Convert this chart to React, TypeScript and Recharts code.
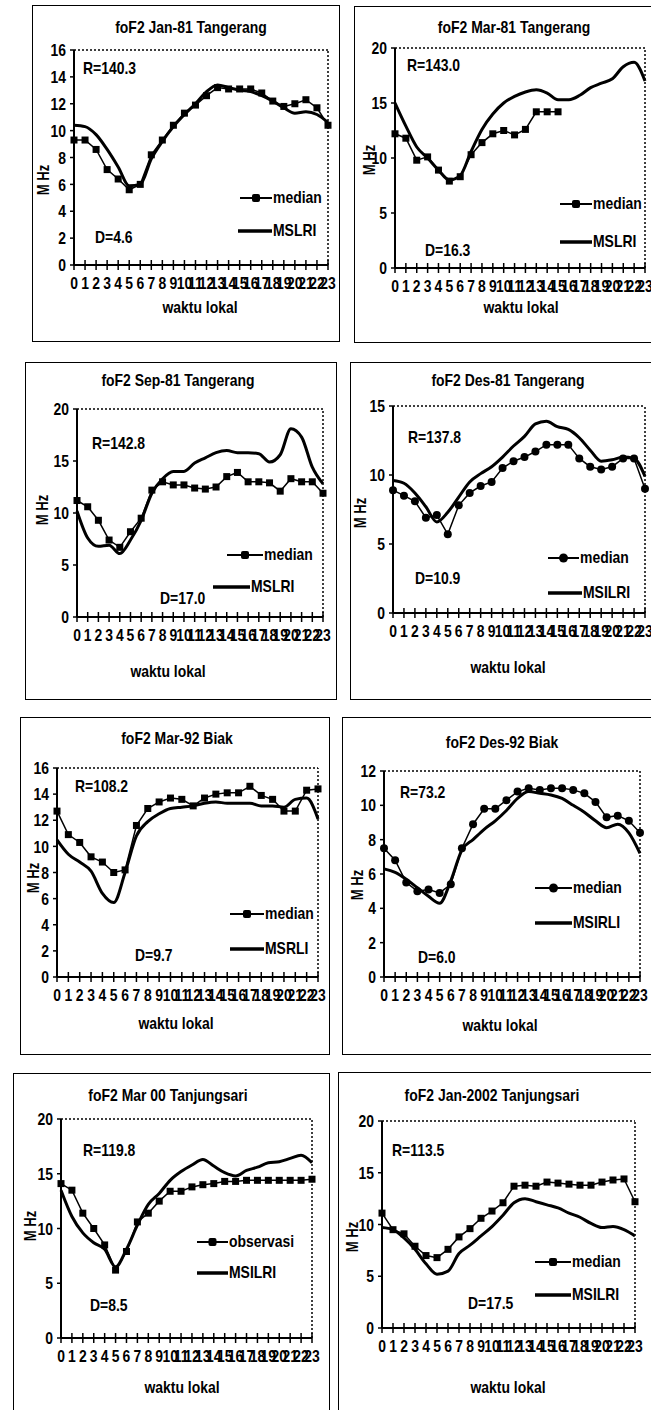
import React from 'react';
import { LineChart, Line, XAxis, YAxis, ReferenceLine, Legend } from 'recharts';

const FONT = "'Liberation Sans', Arial, sans-serif";
const SQ = 0.82; // horizontal squeeze to mimic a narrow bold face
const FS = 17;

// local time, hours
const hours = [0, 1, 2, 3, 4, 5, 6, 7, 8, 9, 10, 11, 12, 13, 14, 15, 16, 17, 18, 19, 20, 21, 22, 23];

const jan81Median = [9.3, 9.3, 8.6, 7.1, 6.4, 5.6, 6.0, 8.2, 9.3, 10.4, 11.3, 11.9, 12.6, 13.2, 13.1, 13.1, 13.1, 12.8, 12.2, 11.8, 12.0, 12.3, 11.7, 10.4];
const jan81Model = [10.4, 10.3, 9.7, 8.6, 7.3, 5.9, 6.0, 7.9, 9.2, 10.3, 11.2, 12.0, 12.9, 13.4, 13.2, 13.0, 12.9, 12.6, 12.2, 11.7, 11.3, 11.4, 11.2, 10.6];

const mar81Median = [12.2, 11.8, 9.8, 10.1, 8.9, 7.9, 8.3, 10.3, 11.4, 12.2, 12.5, 12.1, 12.6, 14.2, 14.2, 14.2, null, null, null, null, null, null, null, null];
const mar81Model = [15.0, 12.9, 11.0, 10.0, 8.9, 8.0, 8.4, 10.6, 12.6, 14.0, 15.0, 15.6, 16.0, 16.2, 15.9, 15.3, 15.3, 15.7, 16.4, 16.8, 17.2, 18.3, 18.7, 17.0];

const sep81Median = [11.2, 10.6, 9.3, 7.4, 6.7, 8.2, 9.5, 12.2, 13.0, 12.7, 12.7, 12.4, 12.3, 12.5, 13.5, 13.9, 13.0, 13.0, 12.9, 12.1, 13.3, 13.0, 13.0, 11.9];
const sep81Model = [10.2, 7.6, 6.8, 6.9, 6.1, 7.4, 9.3, 11.9, 13.3, 14.0, 14.0, 14.8, 15.3, 15.8, 16.0, 15.8, 15.8, 15.7, 14.9, 15.6, 18.1, 17.3, 14.4, 12.8];

const des81Median = [8.9, 8.5, 8.1, 6.9, 7.1, 5.7, 7.8, 8.7, 9.2, 9.5, 10.5, 11.0, 11.3, 11.7, 12.2, 12.2, 12.2, 11.2, 10.6, 10.4, 10.6, 11.2, 11.2, 9.0];
const des81Model = [9.6, 9.4, 8.7, 7.7, 6.6, 7.3, 8.4, 9.5, 10.1, 10.6, 11.3, 12.1, 12.8, 13.7, 13.9, 13.5, 13.3, 12.7, 11.8, 11.0, 11.1, 11.3, 11.2, 9.9];

const mar92Median = [12.7, 10.9, 10.3, 9.2, 8.8, 8.0, 8.2, 11.6, 12.9, 13.4, 13.7, 13.6, 13.1, 13.7, 14.0, 14.1, 14.1, 14.6, 13.9, 13.6, 12.7, 12.7, 14.3, 14.4];
const mar92Model = [10.5, 9.4, 8.8, 8.1, 6.4, 5.7, 8.0, 10.8, 11.9, 12.5, 12.9, 13.0, 13.1, 13.3, 13.4, 13.3, 13.3, 13.3, 13.1, 13.1, 13.0, 13.6, 13.7, 12.1];

const des92Median = [7.5, 6.8, 5.5, 5.0, 5.1, 4.9, 5.4, 7.5, 8.9, 9.8, 9.8, 10.3, 10.8, 11.0, 10.9, 11.0, 11.0, 10.9, 10.7, 10.2, 9.3, 9.4, 9.1, 8.4];
const des92Model = [6.3, 6.1, 5.7, 5.2, 4.7, 4.3, 5.6, 7.4, 8.0, 8.6, 9.1, 9.7, 10.4, 10.8, 10.7, 10.6, 10.4, 10.0, 9.6, 9.1, 8.7, 8.9, 8.4, 7.2];

const mar00Obs = [14.1, 13.5, 11.4, 10.0, 8.5, 6.2, 7.9, 10.6, 11.4, 12.5, 13.4, 13.4, 13.8, 14.0, 14.1, 14.3, 14.3, 14.4, 14.4, 14.4, 14.4, 14.4, 14.4, 14.5];
const mar00Model = [13.5, 11.1, 9.6, 8.7, 8.1, 6.5, 8.1, 10.3, 12.2, 13.2, 14.4, 15.2, 15.8, 16.3, 15.7, 15.1, 14.8, 15.3, 15.6, 16.0, 16.1, 16.4, 16.7, 16.0];

const jan02Median = [11.1, 9.5, 9.1, 7.9, 7.0, 6.8, 7.6, 8.8, 9.6, 10.6, 11.3, 12.1, 13.7, 13.8, 13.7, 14.1, 14.0, 13.9, 13.8, 13.8, 14.1, 14.3, 14.4, 12.2];
const jan02Model = [9.7, 9.5, 8.7, 7.6, 6.2, 5.2, 5.5, 7.2, 8.0, 8.9, 9.8, 10.9, 12.1, 12.5, 12.2, 11.9, 11.6, 11.1, 10.7, 10.1, 9.7, 9.8, 9.5, 8.9];

const ticks16 = [0, 2, 4, 6, 8, 10, 12, 14, 16];
const ticks20 = [0, 5, 10, 15, 20];
const ticks15 = [0, 5, 10, 15];
const ticks12 = [0, 2, 4, 6, 8, 10, 12];

const YW = 32;
const MT = 10;
const MR = 14;
const XH = 30;

type Panel = {
  title: string;
  box: [number, number, number, number];
  plot: [number, number, number, number];
  yMax: number;
  yTicks: number[];
  titleAt: [number, number];
  rText: string;
  rAt: [number, number];
  dText: string;
  dAt: [number, number];
  yLabAt: [number, number];
  xLabAt: [number, number];
  legend: { x1: number; w1: number; x2: number; w2: number; y1: number; y2: number };
  names: [string, string];
  marker: 'square' | 'circle';
  median: (number | null)[];
  model: number[];
};

const panels: Panel[] = [
  {
    title: 'foF2 Jan-81 Tangerang', box: [32, 5, 340, 342], plot: [74, 328, 50, 265], yMax: 16, yTicks: ticks16,
    titleAt: [191, 27], rText: 'R=140.3', rAt: [83, 68], dText: 'D=4.6', dAt: [95, 237],
    yLabAt: [44, 180], xLabAt: [200, 307],
    legend: { x1: 240, w1: 32, x2: 238, w2: 34, y1: 198, y2: 231 }, names: ['median', 'MSLRI'], marker: 'square',
    median: jan81Median, model: jan81Model,
  },
  {
    title: 'foF2 Mar-81 Tangerang', box: [354, 6, 670, 343], plot: [395, 645, 48, 268], yMax: 20, yTicks: ticks20,
    titleAt: [514, 27], rText: 'R=143.0', rAt: [407, 65], dText: 'D=16.3', dAt: [425, 250],
    yLabAt: [370, 160], xLabAt: [521, 307],
    legend: { x1: 560, w1: 32, x2: 560, w2: 32, y1: 204, y2: 242 }, names: ['median', 'MSLRI'], marker: 'square',
    median: mar81Median, model: mar81Model,
  },
  {
    title: 'foF2 Sep-81 Tangerang', box: [25, 362, 337, 700], plot: [77, 323, 409, 617], yMax: 20, yTicks: ticks20,
    titleAt: [178, 380], rText: 'R=142.8', rAt: [92, 443], dText: 'D=17.0', dAt: [160, 598],
    yLabAt: [43, 510], xLabAt: [168, 671],
    legend: { x1: 227, w1: 36, x2: 213, w2: 37, y1: 555, y2: 587 }, names: ['median', 'MSLRI'], marker: 'square',
    median: sep81Median, model: sep81Model,
  },
  {
    title: 'foF2 Des-81 Tangerang', box: [350, 362, 670, 700], plot: [393, 645, 406, 613], yMax: 15, yTicks: ticks15,
    titleAt: [508, 380], rText: 'R=137.8', rAt: [408, 437], dText: 'D=10.9', dAt: [415, 578],
    yLabAt: [361, 513], xLabAt: [508, 667],
    legend: { x1: 548, w1: 31, x2: 548, w2: 34, y1: 558, y2: 593 }, names: ['median', 'MSILRI'], marker: 'circle',
    median: des81Median, model: des81Model,
  },
  {
    title: 'foF2 Mar-92 Biak', box: [20, 717, 330, 1055], plot: [57, 318, 768, 977], yMax: 16, yTicks: ticks16,
    titleAt: [177, 738], rText: 'R=108.2', rAt: [75, 786], dText: 'D=9.7', dAt: [135, 955],
    yLabAt: [34, 878], xLabAt: [176, 1023],
    legend: { x1: 230, w1: 34, x2: 230, w2: 34, y1: 914, y2: 949 }, names: ['median', 'MSRLI'], marker: 'square',
    median: mar92Median, model: mar92Model,
  },
  {
    title: 'foF2 Des-92 Biak', box: [342, 717, 670, 1055], plot: [384, 640, 771, 977], yMax: 12, yTicks: ticks12,
    titleAt: [502, 742], rText: 'R=73.2', rAt: [400, 792], dText: 'D=6.0', dAt: [418, 957],
    yLabAt: [358, 885], xLabAt: [500, 1025],
    legend: { x1: 535, w1: 37, x2: 535, w2: 37, y1: 888, y2: 923 }, names: ['median', 'MSIRLI'], marker: 'circle',
    median: des92Median, model: des92Model,
  },
  {
    title: 'foF2 Mar 00 Tanjungsari', box: [13, 1073, 330, 1430], plot: [61, 312, 1119, 1338], yMax: 20, yTicks: ticks20,
    titleAt: [168, 1095], rText: 'R=119.8', rAt: [83, 1150], dText: 'D=8.5', dAt: [90, 1305],
    yLabAt: [31, 1226], xLabAt: [182, 1387],
    legend: { x1: 197, w1: 31, x2: 197, w2: 31, y1: 1242, y2: 1273 }, names: ['observasi', 'MSILRI'], marker: 'square',
    median: mar00Obs, model: mar00Model,
  },
  {
    title: 'foF2 Jan-2002 Tanjungsari', box: [338, 1072, 670, 1430], plot: [382, 635, 1121, 1328], yMax: 20, yTicks: ticks20,
    titleAt: [492, 1095], rText: 'R=113.5', rAt: [392, 1150], dText: 'D=17.5', dAt: [468, 1303],
    yLabAt: [353, 1237], xLabAt: [508, 1387],
    legend: { x1: 535, w1: 36, x2: 535, w2: 36, y1: 1262, y2: 1295 }, names: ['median', 'MSILRI'], marker: 'square',
    median: jan02Median, model: jan02Model,
  },
];

const txt: React.CSSProperties = {
  position: 'absolute',
  fontFamily: FONT,
  fontWeight: 'bold',
  fontSize: FS,
  color: '#000',
  whiteSpace: 'nowrap',
  lineHeight: 1,
};

const renderXTick = (props: any) => {
  const { x, y, payload } = props;
  return (
    <g>
      <line x1={x} x2={x} y1={y - 5} y2={y + 5} stroke="#000" strokeWidth={1.5} />
      <text
        transform={`translate(${x},${y + 24}) scale(${SQ},1)`}
        textAnchor="middle"
        fontSize={FS}
        fontWeight="bold"
        fontFamily={FONT}
        fill="#000"
      >
        {payload.value}
      </text>
    </g>
  );
};

const renderYTick = (props: any) => {
  const { x, y, payload } = props;
  return (
    <text
      transform={`translate(${x},${y}) scale(${SQ},1)`}
      dy="0.36em"
      textAnchor="end"
      fontSize={FS}
      fontWeight="bold"
      fontFamily={FONT}
      fill="#000"
    >
      {payload.value}
    </text>
  );
};

function makeDot(marker: 'square' | 'circle') {
  return (props: any) => {
    const { cx, cy, index } = props;
    if (cx == null || cy == null) return <g key={index} />;
    if (marker === 'circle') return <circle key={index} cx={cx} cy={cy} r={4} fill="#000" />;
    return <rect key={index} x={cx - 3.5} y={cy - 3.5} width={7} height={7} fill="#000" />;
  };
}

function LegendBox({ p, left, top }: { p: Panel; left: number; top: number }) {
  const rows = [
    { x: p.legend.x1, w: p.legend.w1, y: p.legend.y1, name: p.names[0], first: true },
    { x: p.legend.x2, w: p.legend.w2, y: p.legend.y2, name: p.names[1], first: false },
  ];
  return (
    <div style={{ position: 'relative', width: 1, height: 1 }}>
      {rows.map((r) => (
        <div
          key={r.name}
          style={{
            position: 'absolute',
            left: r.x - left,
            top: r.y - top - 10,
            height: 20,
            display: 'flex',
            alignItems: 'center',
            whiteSpace: 'nowrap',
            fontFamily: FONT,
            fontWeight: 'bold',
            fontSize: FS,
            color: '#000',
          }}
        >
          <svg width={r.w} height={20} style={{ display: 'block' }}>
            <line x1={0} x2={r.w} y1={10} y2={10} stroke="#000" strokeWidth={r.first ? 2 : 3.5} />
            {r.first &&
              (p.marker === 'circle' ? (
                <circle cx={r.w / 2} cy={10} r={4.5} fill="#000" />
              ) : (
                <rect x={r.w / 2 - 4} y={6} width={8} height={8} rx={2} fill="#000" />
              ))}
          </svg>
          <span style={{ display: 'inline-block', transform: `scaleX(${SQ})`, transformOrigin: 'left center', marginLeft: 1 }}>
            {r.name}
          </span>
        </div>
      ))}
    </div>
  );
}

function FoF2Panel({ p }: { p: Panel }) {
  const [x0, x1, y0, y1] = p.plot;
  const left = x0 - YW;
  const top = y0 - MT;
  const width = x1 - x0 + YW + MR;
  const height = y1 - y0 + MT + XH;
  const data = hours.map((h, i) => ({ h, median: p.median[i], model: p.model[i] }));
  const [bl, bt, br, bb] = p.box;

  return (
    <>
      <div
        style={{
          position: 'absolute',
          left: bl,
          top: bt,
          width: br - bl,
          height: bb - bt,
          border: '1.5px solid #000',
          boxSizing: 'border-box',
        }}
      />
      <div style={{ ...txt, left: p.titleAt[0], top: p.titleAt[1], transform: `translate(-50%, -50%) scaleX(${SQ})` }}>
        {p.title}
      </div>
      <div
        style={{
          ...txt,
          left: p.rAt[0],
          top: p.rAt[1],
          transformOrigin: 'left center',
          transform: `translateY(-50%) scaleX(${SQ})`,
        }}
      >
        {p.rText}
      </div>
      <div
        style={{
          ...txt,
          left: p.dAt[0],
          top: p.dAt[1],
          transformOrigin: 'left center',
          transform: `translateY(-50%) scaleX(${SQ})`,
        }}
      >
        {p.dText}
      </div>
      <div
        style={{
          ...txt,
          fontSize: 16,
          left: p.yLabAt[0],
          top: p.yLabAt[1],
          transform: `translate(-50%, -50%) rotate(-90deg) scaleX(${SQ})`,
        }}
      >
        M Hz
      </div>
      <div style={{ ...txt, left: p.xLabAt[0], top: p.xLabAt[1], transform: `translate(-50%, -50%) scaleX(${SQ})` }}>
        waktu lokal
      </div>
      <div style={{ position: 'absolute', left, top }}>
        <LineChart width={width} height={height} data={data} margin={{ top: MT, right: MR, bottom: 0, left: 0 }}>
          <XAxis
            dataKey="h"
            type="number"
            domain={[0, 23]}
            ticks={hours}
            interval={0}
            height={XH}
            tickLine={false}
            tickSize={0}
            tickMargin={0}
            tick={renderXTick}
            axisLine={{ stroke: '#000', strokeWidth: 2 }}
          />
          <YAxis
            type="number"
            domain={[0, p.yMax]}
            ticks={p.yTicks}
            interval={0}
            width={YW}
            tickSize={4}
            tickMargin={4}
            tickLine={{ stroke: '#000', strokeWidth: 1.5 }}
            axisLine={{ stroke: '#000', strokeWidth: 2 }}
            tick={renderYTick}
          />
          <ReferenceLine y={p.yMax} stroke="#000" strokeWidth={1.5} strokeDasharray="2 2" />
          <ReferenceLine x={23} stroke="#000" strokeWidth={1.5} strokeDasharray="2 2" />
          <Line
            dataKey="model"
            name={p.names[1]}
            type="monotone"
            stroke="#000"
            strokeWidth={3}
            dot={false}
            isAnimationActive={false}
          />
          <Line
            dataKey="median"
            name={p.names[0]}
            type="linear"
            stroke="#000"
            strokeWidth={1.5}
            dot={makeDot(p.marker)}
            activeDot={false}
            isAnimationActive={false}
          />
          <Legend
            align="center"
            verticalAlign="middle"
            wrapperStyle={{ left: 0, top: 0, width: 1, height: 1 }}
            content={() => <LegendBox p={p} left={left} top={top} />}
          />
        </LineChart>
      </div>
    </>
  );
}

export default function App() {
  return (
    <div
      style={{
        position: 'absolute',
        left: 0,
        top: 0,
        width: 651,
        height: 1410,
        overflow: 'hidden',
        background: '#fff',
      }}
    >
      {panels.map((p) => (
        <FoF2Panel key={p.title} p={p} />
      ))}
    </div>
  );
}
